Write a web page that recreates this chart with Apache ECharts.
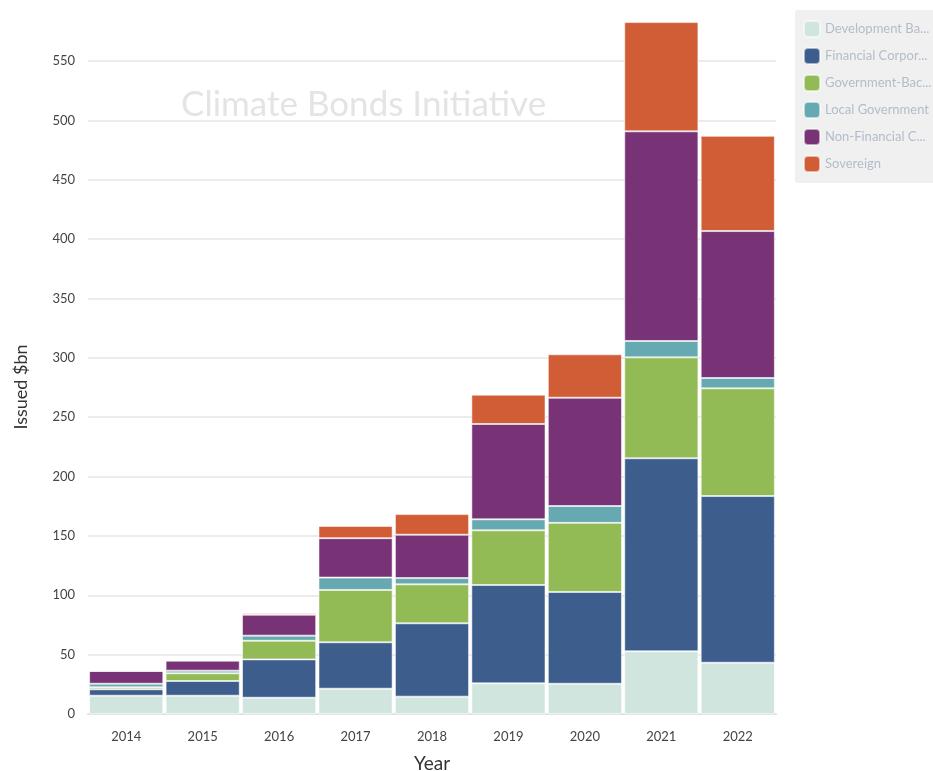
<!DOCTYPE html>
<html>
<head>
<meta charset="utf-8">
<script src="https://cdn.jsdelivr.net/npm/echarts@6/dist/echarts.min.js"></script>
<style>
  html, body { margin: 0; padding: 0; background: #ffffff; }
  #chart { width: 933px; height: 771px; }
</style>
</head>
<body>
<div id="chart"></div>
<script>
// Green bond issuance by issuer type, $bn
const years = ['2014', '2015', '2016', '2017', '2018', '2019', '2020', '2021', '2022'];

const developmentBank       = [15.4, 15.4, 13.7, 21.3, 14.6, 25.8, 25.5, 52.8, 43.2];
const financialCorporate    = [5.4, 12.4, 32.3, 39.1, 61.8, 82.9, 77.3, 162.6, 140.4];
const governmentBacked      = [1.7, 6.5, 15.7, 44.1, 32.8, 46.0, 58.2, 85.0, 90.7];
const localGovernment       = [3.0, 2.2, 4.3, 10.4, 5.3, 9.3, 14.2, 13.8, 8.7];
const nonFinancialCorporate = [10.7, 8.4, 17.6, 33.2, 36.5, 80.3, 91.2, 176.6, 123.8];
const sovereign             = [0.0, 0.3, 1.2, 10.3, 17.4, 24.7, 36.6, 92.0, 80.2];

const seriesNames = [
  'Development Bank',
  'Financial Corporate',
  'Government-Backed Entity',
  'Local Government',
  'Non-Financial Corporate',
  'Sovereign'
];
const seriesValues = [
  developmentBank, financialCorporate, governmentBacked,
  localGovernment, nonFinancialCorporate, sovereign
];
const seriesColors = ['#cfe5dd', '#3d5e8c', '#92bb55', '#66a9b0', '#783276', '#d05d36'];

const yTickStep = 50;
const yMax = 593;

const FONT = 'Lato, "Noto Sans", sans-serif';

const chart = echarts.init(document.getElementById('chart'), null, { renderer: 'canvas' });

chart.setOption({
  backgroundColor: '#ffffff',
  animation: false,
  graphic: [{
    type: 'text',
    left: 181,
    top: 87,
    z: -1,
    silent: true,
    style: {
      text: 'Climate Bonds Initiative',
      fontFamily: FONT,
      fontSize: 35,
      fill: '#e4e4e4'
    }
  }],
  legend: {
    orient: 'vertical',
    left: 795,
    top: 10,
    padding: [10, 8, 10, 8],
    itemWidth: 16,
    itemHeight: 16,
    itemGap: 9,
    icon: 'roundRect',
    backgroundColor: '#f0f0f0',
    borderRadius: 3,
    textStyle: {
      fontFamily: FONT,
      fontSize: 13,
      color: '#b3bccb',
      width: 108,
      overflow: 'truncate',
      ellipsis: '...'
    },
    data: seriesNames
  },
  grid: {
    left: 88,
    right: 157,
    top: 10,
    bottom: 57,
    outerBoundsMode: 'none'
  },
  xAxis: {
    type: 'category',
    data: years,
    name: 'Year',
    nameLocation: 'middle',
    nameGap: 40,
    nameTextStyle: { fontFamily: FONT, fontSize: 19, color: '#333333' },
    axisLine: { show: true, lineStyle: { color: '#e3e3e3', width: 2 } },
    axisTick: { show: false },
    axisLabel: { fontFamily: FONT, fontSize: 13, color: '#444444', margin: 16 }
  },
  yAxis: {
    type: 'value',
    min: 0,
    max: yMax,
    interval: yTickStep,
    name: 'Issued $bn',
    nameLocation: 'middle',
    nameGap: 58,
    nameTextStyle: { fontFamily: FONT, fontSize: 18, color: '#333333', padding: [0, 50, 0, 0] },
    axisLine: { show: false },
    axisTick: { show: false },
    axisLabel: {
      fontFamily: FONT,
      fontSize: 13,
      color: '#444444',
      margin: 13,
      showMaxLabel: false
    },
    splitLine: {
      show: true,
      showMaxLine: false,
      lineStyle: { color: '#e6e6e6', width: 1.5 }
    }
  },
  series: seriesNames.map((name, i) => ({
    name: name,
    type: 'bar',
    stack: 'total',
    barCategoryGap: '3%',
    data: seriesValues[i],
    itemStyle: {
      color: seriesColors[i],
      borderColor: 'rgba(255,255,255,0.55)',
      borderWidth: 1
    },
    emphasis: { disabled: true }
  }))
});
</script>
</body>
</html>
